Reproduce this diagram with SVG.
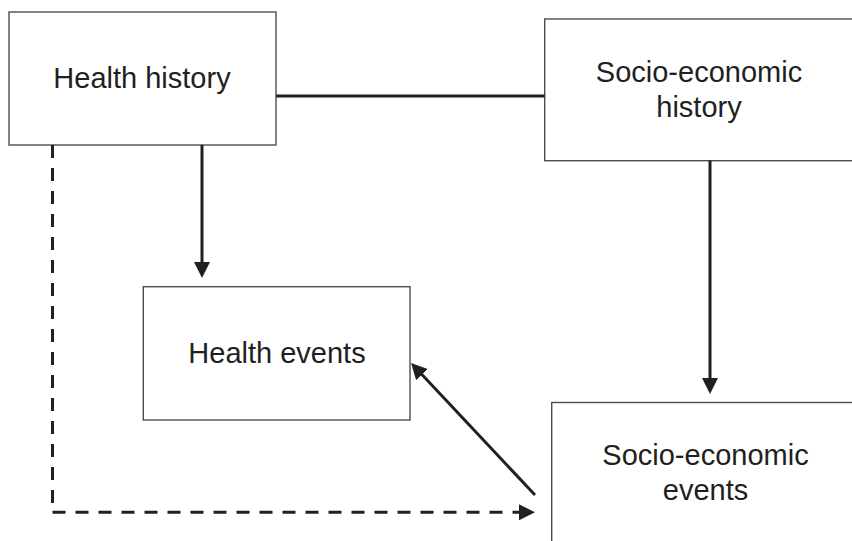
<svg xmlns="http://www.w3.org/2000/svg" width="852" height="541" viewBox="0 0 852 541">
  <style>
    .box { fill: #ffffff; stroke: #4d4d4d; stroke-width: 1.4; }
    .label { font-family: "Liberation Sans", Arial, Helvetica, sans-serif; font-size: 29px; fill: #231f20; text-anchor: middle; }
    .link { fill: none; stroke: #231f20; stroke-width: 3; }
    .dashed { stroke-dasharray: 13 10; }
  </style>
  <defs>
    <marker id="arrow" viewBox="0 0 16 16" refX="8" refY="8" markerWidth="16" markerHeight="16" markerUnits="userSpaceOnUse" orient="auto">
      <path d="M0,0 L16,8 L0,16 z" fill="#231f20"/>
    </marker>
  </defs>
  <rect width="852" height="541" fill="#ffffff"/>

  <g id="health-history">
    <rect class="box" x="9" y="12" width="267" height="133"/>
    <text class="label" x="142" y="88">Health history</text>
  </g>

  <g id="socio-economic-history">
    <rect class="box" x="544.7" y="19" width="320" height="141.7"/>
    <text class="label" x="699" y="82">Socio-economic</text>
    <text class="label" x="699" y="117">history</text>
  </g>

  <g id="health-events">
    <rect class="box" x="143.3" y="286.7" width="266.7" height="133.3"/>
    <text class="label" x="277" y="363">Health events</text>
  </g>

  <g id="socio-economic-events">
    <rect class="box" x="551.7" y="402.5" width="320" height="160"/>
    <text class="label" x="705.5" y="465">Socio-economic</text>
    <text class="label" x="705.5" y="500">events</text>
  </g>

  <g id="connectors">
    <line class="link" x1="276" y1="96" x2="544.7" y2="96"/>
    <line class="link" x1="202" y1="145" x2="202" y2="270" marker-end="url(#arrow)"/>
    <line class="link" x1="710" y1="160.7" x2="710" y2="386" marker-end="url(#arrow)"/>
    <line class="link" x1="535" y1="495" x2="416.5" y2="368.8" marker-end="url(#arrow)"/>
    <line class="link dashed" x1="52.5" y1="145" x2="52.5" y2="506"/>
    <line class="link dashed" x1="52.5" y1="512.3" x2="527" y2="512.3" marker-end="url(#arrow)"/>
  </g>
</svg>
